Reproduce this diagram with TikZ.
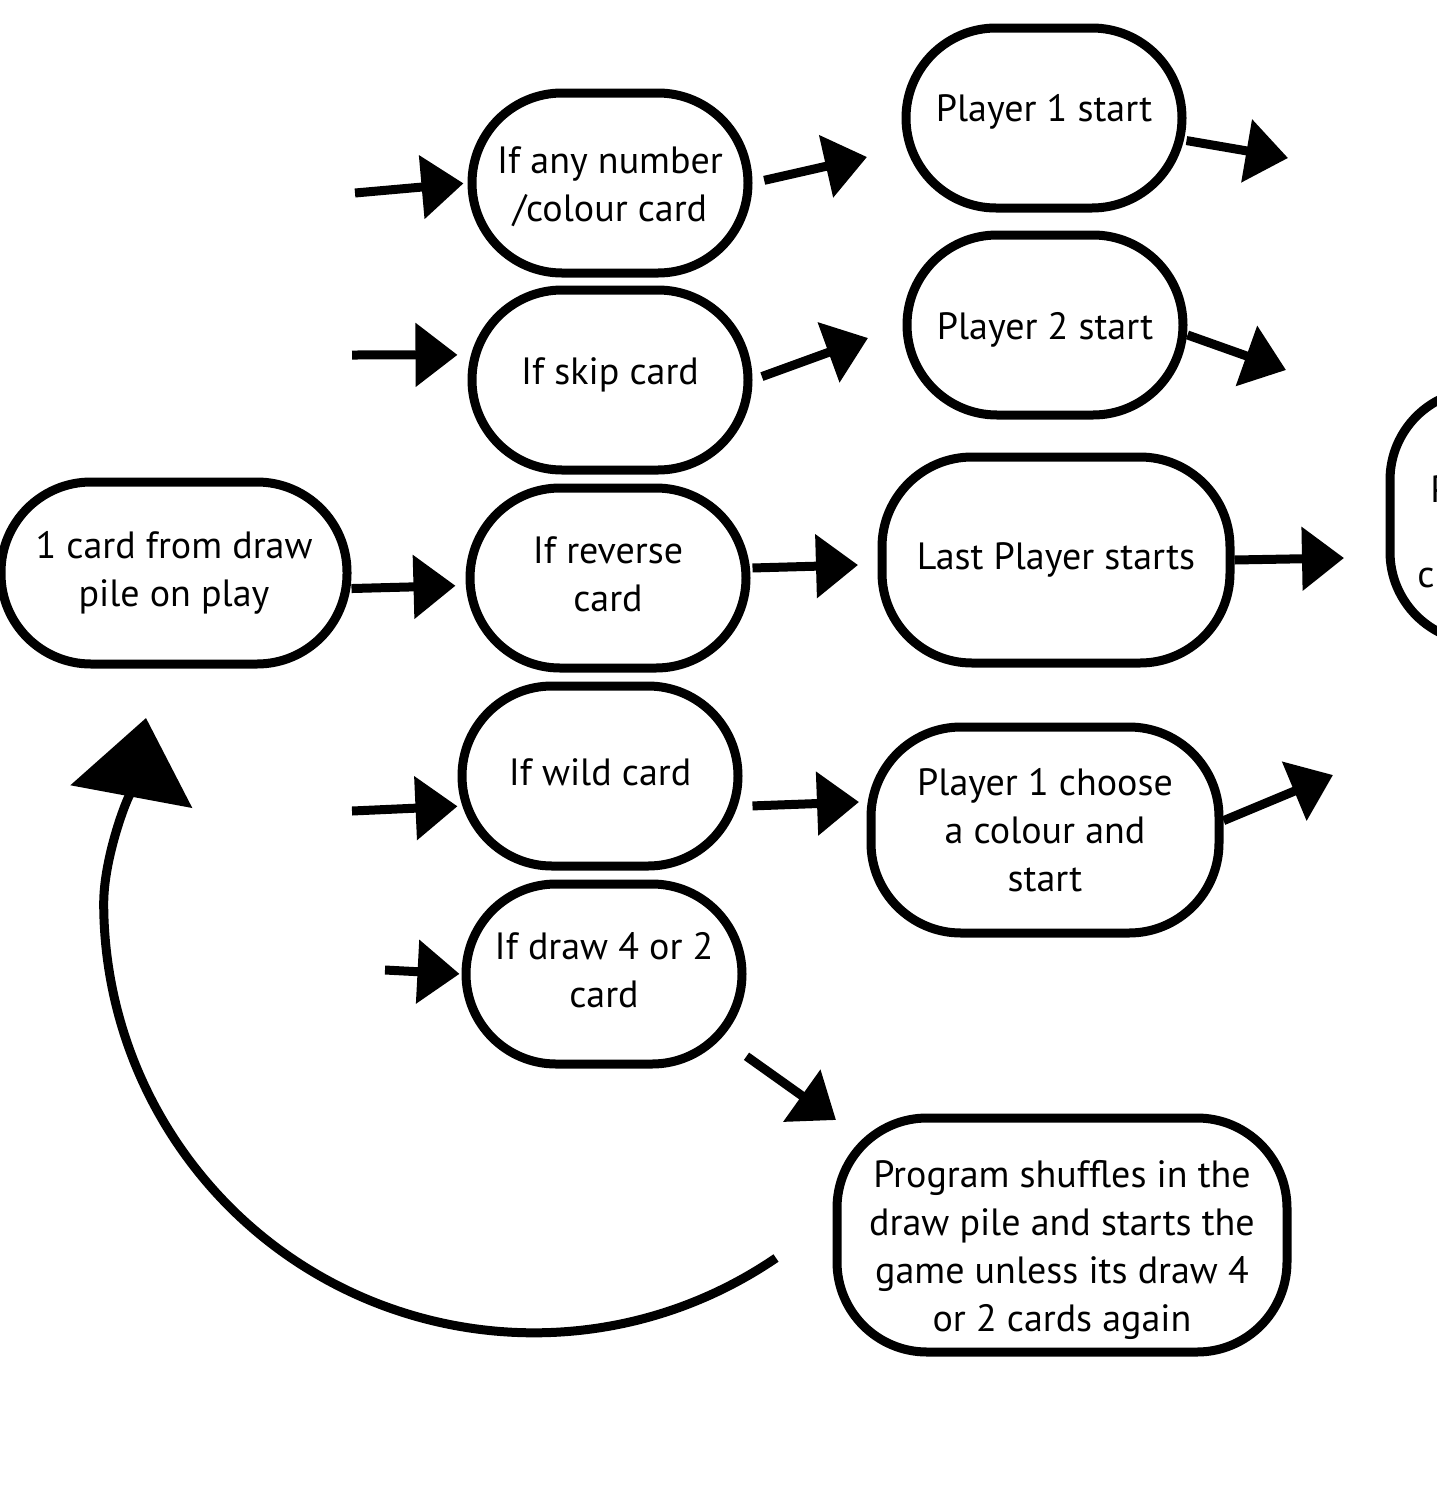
\documentclass[tikz,border=0pt]{standalone}
\usepackage{fontspec}
\setmainfont{PT Sans}
\usetikzlibrary{arrows.meta}
\tikzset{
  card/.style={draw, line width=4.5pt, rounded corners=45pt, align=center,
    inner sep=0pt, font=\fontsize{19pt}{24pt}\selectfont},
  ifbox/.style={card, minimum width=138pt, minimum height=90pt},
  playbox/.style={card, minimum width=174pt, minimum height=103pt},
  arr/.style={line width=4.5pt, -{Triangle[length=21pt,width=31pt]}},
}
\begin{document}
\begin{tikzpicture}[x=0.5pt,y=0.5pt,yscale=-1,xscale=1]
    \useasboundingbox (0,0) rectangle (1436,1494);
    % Nodes
    \node [card, minimum width=173pt, minimum height=91pt] (draw) at (174,573) {1 card from draw\\pile on play};
    \node [ifbox] (anycard) at (610,183) {\rule{0pt}{17pt}If any number\\/colour card};
    \node [ifbox, text height=14pt, text depth=10pt] (skip) at (610,380) {If skip card};
    \node [ifbox] (reverse) at (608,578) {If reverse\\card\rule[-4pt]{0pt}{4pt}};
    \node [ifbox, text height=14pt, text depth=5pt] (wild) at (600,776) {If wild card};
    \node [ifbox] (drawfour) at (604,974) {If draw 4 or 2\\card\rule[-4pt]{0pt}{4pt}};
    \node [ifbox, text height=14pt, text depth=11pt] (pone) at (1044,118) {Player 1 start};
    \node [ifbox, text height=18pt, text depth=4pt] (ptwo) at (1045,325) {Player 2 start};
    \node [playbox] (plast) at (1056,560) {Last Player starts};
    \node [playbox] (pcolour) at (1045,830) {Player 1 choose\\a colour and\\start};
    \node [card, minimum width=225pt, minimum height=117pt] (shuffle) at (1062,1235) {\rule{0pt}{29pt}Program shuffles in the\\draw pile and starts the\\game unless its draw 4\\or 2 cards again};
    % Cut off box at the right edge
    \node [card, minimum width=174pt, minimum height=126pt] (next) at (1564,516) {};
    \node [anchor=base west, inner sep=0pt, font=\fontsize{19pt}{24pt}\selectfont] (nextp) at (1430,502) {P};
    \node [anchor=base west, inner sep=0pt, font=\fontsize{19pt}{24pt}\selectfont] (nextc) at (1417,587) {c};
    % Free ends
    \coordinate (in1) at (355,193);
    \coordinate (in2) at (352,355);
    \coordinate (in4) at (352,811);
    \coordinate (in5) at (385,970);
    \coordinate (t1) at (867,157);
    \coordinate (t2) at (868,338);
    \coordinate (t3) at (858,565);
    \coordinate (t4) at (859,802);
    \coordinate (t5) at (836,1120);
    \coordinate (t6) at (1288,158);
    \coordinate (t7) at (1286,370);
    \coordinate (t8) at (1344,558);
    \coordinate (t9) at (1333,775);
    \coordinate (loop) at (776,1258);
    \coordinate (loopend) at (146,718);
    % Arrows into the card checks
    \draw [arr, shorten >=2pt] (in1) -- (anycard.west);
    \draw [arr, shorten >=5pt] (in2) -- (skip.170);
    \draw [arr, shorten >=5pt] (draw.-5) -- (reverse.183);
    \draw [arr] (in4) -- (wild.192);
    \draw [arr, shorten >=1pt] (in5) -- (drawfour.west);
    % Arrows out of the card checks
    \draw [arr, shorten <=6pt] (anycard.east) -- (t1);
    \draw [arr, shorten <=5pt] (skip.east) -- (t2);
    \draw [arr, shorten <=1pt] (reverse.4) -- (t3);
    \draw [arr, shorten <=5pt] (wild.-12) -- (t4);
    \draw [arr] (drawfour.-30) -- (t5);
    % Arrows out of the players
    \draw [arr] (pone.-9) -- (t6);
    \draw [arr] (ptwo.-4) -- (t7);
    \draw [arr] (plast.east) -- (t8);
    \draw [arr] (pcolour.3) -- (t9);
    % Back to the draw pile
    \draw [line width=4.5pt, -{Triangle[length=40pt,width=61pt]}] (loop) arc [start angle=55.7, end angle=180, radius=430]
      .. controls (104,850) and (135,777) .. (loopend);
\end{tikzpicture}
\end{document}
